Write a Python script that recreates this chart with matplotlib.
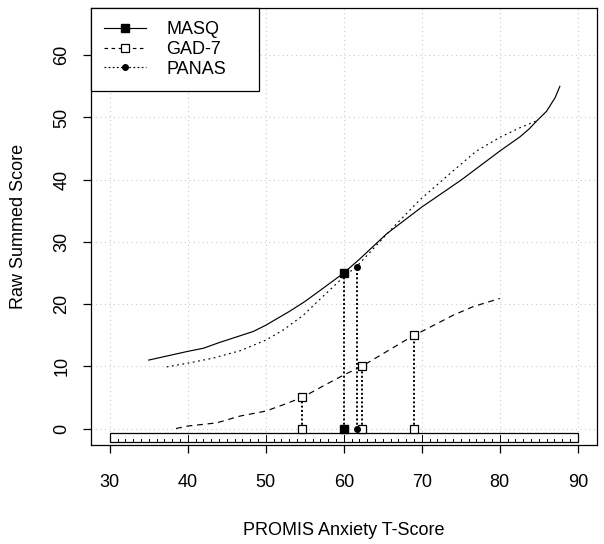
import matplotlib
matplotlib.use('Agg')
import matplotlib.pyplot as plt
from matplotlib.lines import Line2D
from matplotlib.patches import Rectangle
import numpy as np

plt.rcParams['font.family'] = ['Liberation Sans', 'DejaVu Sans']

# curves
masq_x = [35, 40, 42, 44, 48.4, 50, 53, 55, 57.3, 60, 62, 65.5, 70, 75, 80, 82.6, 83.8, 84.7, 86, 87.1, 87.7]
masq_y = [11.0, 12.4, 12.9, 13.8, 15.6, 16.6, 18.8, 20.4, 22.5, 25.0, 27.2, 31.3, 35.6, 39.9, 44.6, 46.9, 48.2, 49.4, 51.0, 53.2, 55.0]

gad_x = [38.5, 40, 43.7, 46.7, 50, 52.2, 54.7, 57.3, 60, 62.3, 65, 69, 70, 74, 76.6, 80]
gad_y = [0, 0.4, 0.9, 2.0, 2.8, 3.8, 5.0, 6.8, 8.6, 10, 12, 15, 15.6, 18.2, 19.6, 20.9]

panas_x = [37.3, 40, 43.2, 46.7, 50, 52.2, 54.8, 57.3, 60, 61.7, 64, 66, 69.7, 74, 77, 80, 82.5, 84.6]
panas_y = [9.9, 10.5, 11.3, 12.5, 14.2, 15.8, 18.2, 21.2, 24.4, 26.1, 29.2, 31.9, 36.7, 41.4, 44.6, 46.8, 48.3, 49.4]

# cut points (T-score, raw score)
masq_cut_x = [60]
masq_cut_y = [25]
gad_cut_x = [54.7, 62.3, 69]
gad_cut_y = [5, 10, 15]
panas_cut_x = [61.7]
panas_cut_y = [26]

x_ticks = [30, 40, 50, 60, 70, 80, 90]
y_ticks = [0, 10, 20, 30, 40, 50, 60]
ruler_ticks = np.arange(30, 91)

fig = plt.figure(figsize=(6.04, 5.44), dpi=100)
ax = fig.add_axes([0.1507, 0.182, 0.8369, 0.8033])

ax.set_xlim(27.6, 92.4)
ax.set_ylim(-2.65, 67.6)

# grid
for gx in x_ticks:
    ax.axvline(gx, color='#cccccc', lw=0.8, linestyle=(0, (1, 3)), zorder=0)
for gy in y_ticks:
    ax.axhline(gy, color='#cccccc', lw=0.8, linestyle=(0, (1, 3)), zorder=0)

lw = 0.85
ax.plot(masq_x, masq_y, color='black', lw=lw, linestyle='-')
ax.plot(gad_x, gad_y, color='black', lw=lw, linestyle=(0, (5, 4)))
ax.plot(panas_x, panas_y, color='black', lw=lw, linestyle=(0, (1.5, 3)))

# drop lines to the axis
drop_style = dict(color='black', lw=1.4, linestyle=(0, (1, 1.2)), zorder=3)
for cx, cy in zip(masq_cut_x + gad_cut_x + panas_cut_x, masq_cut_y + gad_cut_y + panas_cut_y):
    ax.plot([cx, cx], [0, cy], **drop_style)

for cx, cy in zip(masq_cut_x, masq_cut_y):
    ax.plot([cx, cx], [0, cy], linestyle='none', marker='s', ms=6, color='black', zorder=4)
for cx, cy in zip(gad_cut_x, gad_cut_y):
    ax.plot([cx, cx], [0, cy], linestyle='none', marker='s', ms=6, mfc='white', mec='black',
            mew=0.9, zorder=4)
for cx, cy in zip(panas_cut_x, panas_cut_y):
    ax.plot([cx, cx], [0, cy], linestyle='none', marker='o', ms=4, color='black', zorder=4)

# ruler strip along the bottom
ax.add_patch(Rectangle((30, -2.12), 60, 1.44, fill=False, edgecolor='black', lw=0.9, zorder=2))
for t in ruler_ticks:
    top = -1.05 if t % 10 == 0 else -1.65
    ax.plot([t, t], [-2.12, top], color='black', lw=0.7, zorder=2)

ax.set_xticks(x_ticks)
ax.set_yticks(y_ticks)
ax.tick_params(axis='both', direction='out', length=6, width=0.9, labelsize=13)
ax.tick_params(axis='x', pad=15)
ax.tick_params(axis='y', pad=9)
for lab in ax.get_yticklabels():
    lab.set_rotation(90)
    lab.set_va('center')
for s in ax.spines.values():
    s.set_linewidth(0.9)

ax.set_xlabel('PROMIS Anxiety T-Score', fontsize=13, labelpad=22)
ax.set_ylabel('Raw Summed Score', fontsize=13, labelpad=19)

handles = [
    Line2D([], [], color='black', lw=lw, linestyle='-', marker='s', ms=6),
    Line2D([], [], color='black', lw=lw, linestyle=(0, (3, 3)), marker='s', ms=6, mfc='white', mew=0.9),
    Line2D([], [], color='black', lw=lw, linestyle=(0, (1.5, 2)), marker='o', ms=4),
]
leg = ax.legend(handles, ['MASQ', 'GAD-7', 'PANAS'], loc='upper left',
                bbox_to_anchor=(0, 1, 0.333, 0), mode='expand', borderaxespad=0,
                fontsize=13, numpoints=1, handlelength=2.3, handletextpad=1.15,
                labelspacing=0.16, borderpad=0.72, fancybox=False, framealpha=1)
leg.get_frame().set_edgecolor('black')
leg.get_frame().set_linewidth(0.9)

fig.savefig('out.png', dpi=100)
